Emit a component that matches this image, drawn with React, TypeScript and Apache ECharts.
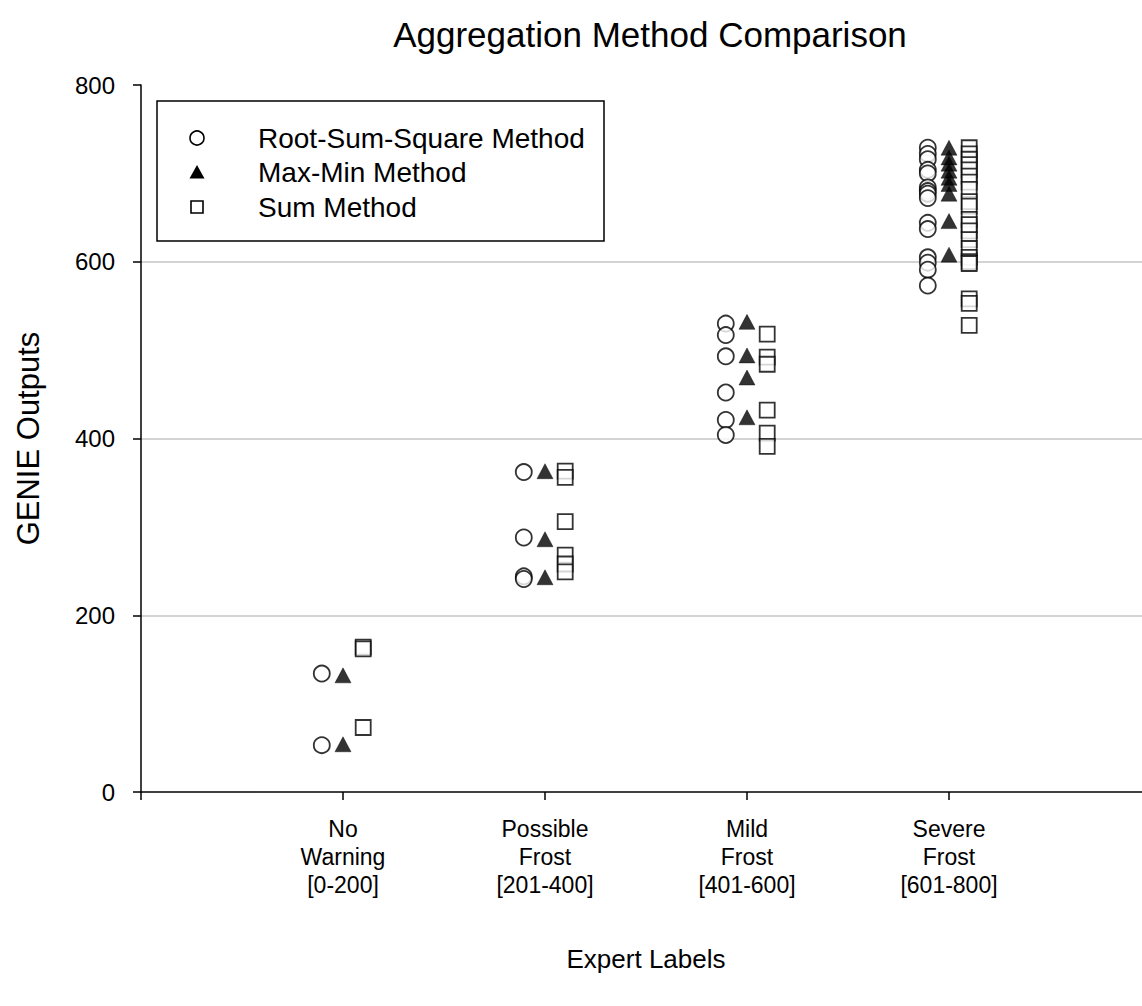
import React, { useEffect, useRef } from "react";
import * as echarts from "echarts";

// Category positions on the x axis and their multi-line labels
const categoryPositions = [1, 2, 3, 4];
const categoryLabels = [
  "No\nWarning\n[0-200]",
  "Possible\nFrost\n[201-400]",
  "Mild\nFrost\n[401-600]",
  "Severe\nFrost\n[601-800]",
];
const yTicks = [0, 200, 400, 600, 800];

// GENIE outputs per expert label, one list per category
const rootSumSquare = [
  [134, 53],
  [362, 288, 244, 241],
  [530, 517, 493, 452, 421, 404],
  [729, 722, 716, 704, 700, 684, 680, 677, 672, 644, 637, 605, 599, 591, 573],
];
const maxMin = [
  [132, 54],
  [363, 286, 243],
  [532, 494, 469, 424],
  [729, 718, 711, 703, 695, 688, 677, 646, 608],
];
const sumMethod = [
  [164, 162, 73],
  [363, 356, 306, 268, 258, 249],
  [518, 492, 484, 432, 406, 391],
  [729, 722, 716, 710, 704, 697, 690, 682, 668, 663, 648, 642, 635, 625, 615, 605, 600, 598, 558, 553, 528],
];

const FONT = "'Liberation Sans', Arial, sans-serif";

function toPoints(groups: number[][], offset: number): number[][] {
  const pts: number[][] = [];
  groups.forEach((vals, i) => {
    vals.forEach((v) => pts.push([categoryPositions[i] + offset, v]));
  });
  return pts;
}

export default function App() {
  const ref = useRef<HTMLDivElement>(null);

  useEffect(() => {
    if (!ref.current) return;
    const chart = echarts.init(ref.current, undefined, { renderer: "svg" });

    const legendRows = [
      { label: "Root-Sum-Square Method", y: 138 },
      { label: "Max-Min Method", y: 172 },
      { label: "Sum Method", y: 207 },
    ];

    chart.setOption({
      animation: false,
      backgroundColor: "#ffffff",
      title: {
        text: "Aggregation Method Comparison",
        left: 645,
        top: 12,
        textAlign: "center",
        textStyle: { fontFamily: FONT, fontSize: 35, fontWeight: "normal", color: "#000" },
      },
      grid: { left: 141, top: 85, width: 1010, height: 707, containLabel: false },
      xAxis: {
        type: "value",
        min: 0,
        max: 5,
        interval: 1,
        name: "Expert Labels",
        nameLocation: "middle",
        nameGap: 154,
        nameTextStyle: { fontFamily: FONT, fontSize: 26, color: "#000" },
        axisLine: { show: true, onZero: false, lineStyle: { color: "#000", width: 1.5 } },
        axisTick: { show: true, inside: false, length: 8, lineStyle: { color: "#000", width: 1.5 } },
        axisLabel: {
          fontFamily: FONT,
          fontSize: 23,
          lineHeight: 28,
          color: "#000",
          margin: 23,
          formatter: (v: number) => {
            const idx = categoryPositions.indexOf(Math.round(v));
            return Math.abs(v - Math.round(v)) < 1e-6 && idx >= 0 ? categoryLabels[idx] : "";
          },
        },
        splitLine: { show: false },
      },
      yAxis: {
        type: "value",
        min: yTicks[0],
        max: yTicks[yTicks.length - 1],
        interval: 200,
        name: "GENIE Outputs",
        nameLocation: "middle",
        nameGap: 97,
        nameTextStyle: { fontFamily: FONT, fontSize: 31, color: "#000" },
        axisLine: { show: true, lineStyle: { color: "#000", width: 1.5 } },
        axisTick: { show: true, inside: false, length: 8, lineStyle: { color: "#000", width: 1.5 } },
        axisLabel: { fontFamily: FONT, fontSize: 24, color: "#000", margin: 26 },
        splitLine: {
          show: true,
          showMinLine: false,
          showMaxLine: false,
          lineStyle: { color: "#c4c4c4", width: 1.5 },
        },
      },
      series: [
        {
          name: "Root-Sum-Square Method",
          type: "scatter",
          symbol: "circle",
          symbolSize: 16,
          itemStyle: { color: "#fff", borderColor: "#000", borderWidth: 1.8 },
          data: toPoints(rootSumSquare, -0.105),
        },
        {
          name: "Max-Min Method",
          type: "scatter",
          symbol: "triangle",
          symbolSize: [16, 15],
          itemStyle: { color: "#000", borderColor: "#000", borderWidth: 0.5 },
          data: toPoints(maxMin, 0),
        },
        {
          name: "Sum Method",
          type: "scatter",
          symbol: "rect",
          symbolSize: 15,
          itemStyle: { color: "#fff", borderColor: "#000", borderWidth: 1.8 },
          data: toPoints(sumMethod, 0.1),
        },
      ],
      graphic: [
        {
          type: "rect",
          shape: { x: 157, y: 101, width: 447, height: 140 },
          style: { fill: "#fff", stroke: "#000", lineWidth: 1.5 },
          z: 10,
        },
        {
          type: "circle",
          shape: { cx: 197, cy: legendRows[0].y, r: 7 },
          style: { fill: "#fff", stroke: "#000", lineWidth: 1.6 },
          z: 11,
        },
        {
          type: "polygon",
          shape: {
            points: [
              [197, legendRows[1].y - 7],
              [204.5, legendRows[1].y + 6.5],
              [189.5, legendRows[1].y + 6.5],
            ],
          },
          style: { fill: "#000" },
          z: 11,
        },
        {
          type: "rect",
          shape: { x: 191, y: legendRows[2].y - 6, width: 12, height: 12 },
          style: { fill: "#fff", stroke: "#000", lineWidth: 1.6 },
          z: 11,
        },
        ...legendRows.map((r) => ({
          type: "text",
          x: 258,
          y: r.y,
          z: 11,
          style: {
            text: r.label,
            fontFamily: FONT,
            fontSize: 28,
            fill: "#000",
            verticalAlign: "middle",
            align: "left",
          },
        })),
      ],
    });

    return () => chart.dispose();
  }, []);

  return (
    <div
      style={{
        position: "fixed",
        left: 0,
        top: 0,
        width: 1142,
        height: 1006,
        overflow: "hidden",
        background: "#fff",
      }}
    >
      <div ref={ref} style={{ width: 1160, height: 1006 }} />
    </div>
  );
}
